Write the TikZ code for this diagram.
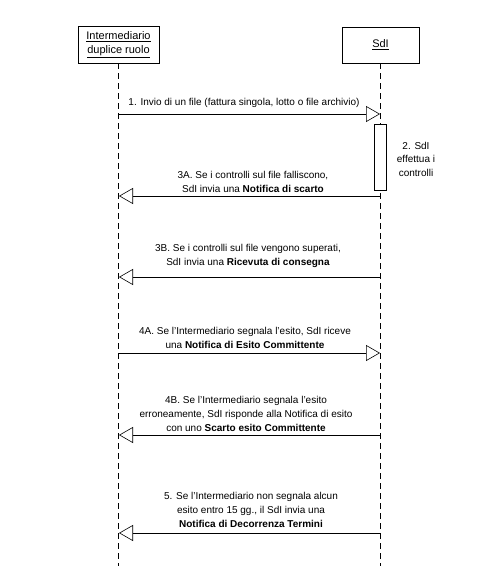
\documentclass[tikz,border=0pt]{standalone}
\usepackage{fontspec}
\setmainfont{Liberation Sans}
\usetikzlibrary{arrows.meta}
\begin{document}
\begin{tikzpicture}[x=1pt,y=-1pt,
 actor/.style={draw, line width=0.8pt, align=center, inner sep=0pt, font=\fontsize{11}{14}\selectfont},
 life/.style={line width=0.6pt, dash pattern=on 6pt off 4pt},
 msg/.style={line width=0.8pt, -{Triangle[open,length=14pt,width=16pt,fill=white,line width=0.6pt]}},
 lbl/.style={align=center, inner sep=0pt, anchor=south, font=\fontsize{10}{14}\selectfont},
 actbox/.style={draw, fill=white, line width=0.6pt, inner sep=0pt, minimum width=12pt, minimum height=66pt},
]
\useasboundingbox (0,0) rectangle (502,570);
\node[actor, minimum width=81pt, minimum height=37pt] (A) at (118.5,44.5) {\underline{Intermediario}\\\underline{duplice ruolo}};
\node[actor, minimum width=77pt, minimum height=36pt] (S) at (380.5,45) {\underline{SdI}};
\coordinate (Aend) at (119,566);
\coordinate (Send) at (380,566);
\draw[life] (A.south) -- (A.south |- Aend);
\draw[life] (S.south) -- (S.south |- Send);
\node[actbox] (act) at (380,157) {};
% message coordinates
\coordinate (a1) at (119,114); \coordinate (s1) at (380,114);
\coordinate (a3) at (119,196); \coordinate (s3) at (380,196);
\coordinate (a3b) at (119,277); \coordinate (s3b) at (380,277);
\coordinate (a4) at (119,353); \coordinate (s4) at (380,353);
\coordinate (a4b) at (119,435); \coordinate (s4b) at (380,435);
\coordinate (a5) at (119,533); \coordinate (s5) at (380,533);
\draw[msg] (a1) -- (s1);
\draw[msg] (s3) -- (a3);
\draw[msg] (s3b) -- (a3b);
\draw[msg] (a4) -- (s4);
\draw[msg] (s4b) -- (a4b);
\draw[msg] (s5) -- (a5);
\node[lbl] (l1) at (244,108) {1. Invio di un file (fattura singola, lotto o file archivio)};
\node[align=center, inner sep=0pt, font=\fontsize{10}{13.5}\selectfont] (l2) at (416,159) {2. SdI\\effettua i\\controlli};
\node[lbl] (l3) at (253,193) {3A. Se i controlli sul file falliscono,\\SdI invia una \textbf{Notifica di scarto}};
\node[lbl] (l3b) at (248,268) {3B. Se i controlli sul file vengono superati,\\SdI invia una \textbf{Ricevuta di consegna}};
\node[lbl] (l4) at (245,349) {4A. Se l’Intermediario segnala l'esito, SdI riceve\\una \textbf{Notifica di Esito Committente}};
\node[lbl] (l4b) at (246,432) {4B. Se l’Intermediario segnala l’esito\\erroneamente, SdI risponde alla Notifica di esito\\con uno \textbf{Scarto esito Committente}};
\node[lbl] (l5) at (251,528) {5. Se l’Intermediario non segnala alcun\\esito entro 15 gg., il SdI invia una\\\textbf{Notifica di Decorrenza Termini}};
\end{tikzpicture}
\end{document}
